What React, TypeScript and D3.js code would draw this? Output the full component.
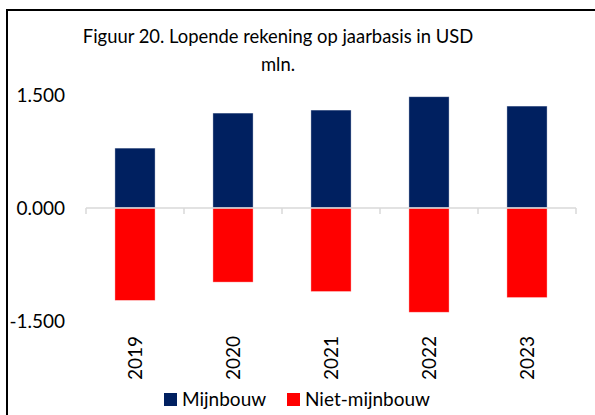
import React, { useEffect, useRef } from 'react'
import * as d3 from 'd3'

const years = ['2019', '2020', '2021', '2022', '2023']
const mijnbouw = [795, 1260, 1300, 1477, 1353]
const nietMijnbouw = [-1227, -984, -1109, -1384, -1189]
const yTicks = [-1500, 0, 1500]
const seriesNames = ['Mijnbouw', 'Niet-mijnbouw']
const colors = ['#002060', '#FF0000']

const W = 595
const H = 415
const FONT = 'Lato, "Open Sans", sans-serif'

function drawChart(el: SVGSVGElement) {
    const svg = d3.select(el)
    svg.selectAll('*').remove()

    svg.append('rect').attr('width', W).attr('height', H).attr('fill', '#fff')

    // frame (only left + top visible)
    svg.append('path')
        .attr('d', `M7,${H} L7,10 L${W},10`)
        .attr('fill', 'none')
        .attr('stroke', '#000')
        .attr('stroke-width', 2)

    // title
    const title = svg.append('text')
        .attr('text-anchor', 'middle')
        .attr('font-family', FONT)
        .attr('font-size', 18.4)
        .attr('fill', '#000')
    title.append('tspan').attr('x', 278).attr('y', 43).text('Figuur 20. Lopende rekening op jaarbasis in USD')
    title.append('tspan').attr('x', 278).attr('y', 71).text('mln.')

    const x = d3.scaleBand().domain(years).range([86, 576]).paddingInner(0.59).paddingOuter(0.295)
    const y = d3.scaleLinear().domain([-1500, 1500]).range([321, 95])

    // y labels (Dutch style: 1.500)
    const fmt = (d: number) => (d < 0 ? '-' : '') + d3.format('.3f')(Math.abs(d) / 1000)
    svg.append('g').selectAll('text')
        .data(yTicks)
        .enter()
        .append('text')
        .attr('x', 65)
        .attr('y', d => y(d))
        .attr('dy', '0.36em')
        .attr('text-anchor', 'end')
        .attr('font-family', FONT)
        .attr('font-size', 19)
        .text(d => fmt(d))

    // bars
    const series = [mijnbouw, nietMijnbouw]
    series.forEach((vals, si) => {
        svg.append('g').selectAll('rect')
            .data(vals)
            .enter()
            .append('rect')
            .attr('x', (d, i) => x(years[i])!)
            .attr('width', x.bandwidth())
            .attr('y', d => y(Math.max(0, d)))
            .attr('height', d => Math.abs(y(d) - y(0)))
            .attr('fill', colors[si])
            .attr('stroke', '#ffffff')
            .attr('stroke-opacity', 0.5)
            .attr('stroke-width', 0.75)
    })

    // x axis line + ticks
    const step = x.step()
    const x0 = 86
    const axis = svg.append('g').attr('stroke', '#d9d9d9').attr('stroke-width', 1.5)
    axis.append('line').attr('x1', x0).attr('x2', 576).attr('y1', y(0)).attr('y2', y(0))
    axis.selectAll('line.tick')
        .data(d3.range(years.length + 1))
        .enter()
        .append('line')
        .attr('class', 'tick')
        .attr('x1', i => x0 + i * step)
        .attr('x2', i => x0 + i * step)
        .attr('y1', y(0))
        .attr('y2', y(0) + 6)

    // x labels (rotated)
    svg.append('g').selectAll('text')
        .data(years)
        .enter()
        .append('text')
        .attr('transform', d => `translate(${x(d)! + x.bandwidth() / 2},336) rotate(-90)`)
        .attr('text-anchor', 'end')
        .attr('dy', '0.36em')
        .attr('font-family', FONT)
        .attr('font-size', 19)
        .text(d => d)

    // legend
    const legendItems = [
        { name: seriesNames[0], color: colors[0], sx: 164, tx: 182 },
        { name: seriesNames[1], color: colors[1], sx: 287, tx: 305 },
    ]
    const lg = svg.append('g')
    legendItems.forEach(it => {
        lg.append('rect').attr('x', it.sx).attr('y', 393).attr('width', 13).attr('height', 13).attr('fill', it.color)
        lg.append('text')
            .attr('x', it.tx)
            .attr('y', 399.5)
            .attr('dy', '0.36em')
            .attr('font-family', FONT)
            .attr('font-size', 19)
            .text(it.name)
    })
}

const App = () => {
    const ref = useRef<SVGSVGElement>(null)
    useEffect(() => {
        if (ref.current) drawChart(ref.current)
    })
    return (
        <svg ref={ref} width={W} height={H} style={{ position: 'absolute', left: 0, top: 0 }} />
    )
}

export default App
